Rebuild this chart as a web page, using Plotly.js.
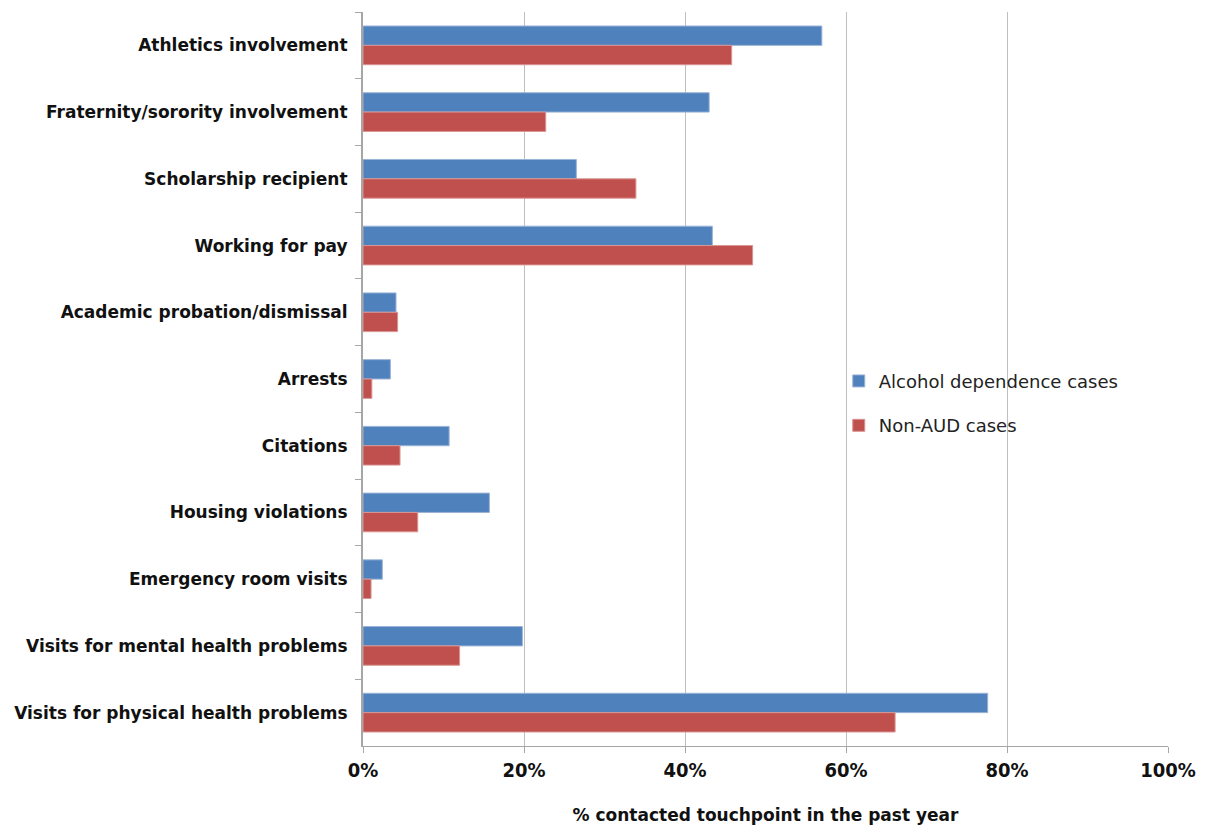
<!DOCTYPE html>
<html>
<head>
<meta charset="utf-8">
<script src="https://cdn.plot.ly/plotly-3.0.1.min.js"></script>
<style>html,body{margin:0;padding:0;background:#fff;}#chart{width:1207px;height:825px;}</style>
</head>
<body>
<div id="chart"></div>
<script>
const categories = [
  "Athletics involvement",
  "Fraternity/sorority involvement",
  "Scholarship recipient",
  "Working for pay",
  "Academic probation/dismissal",
  "Arrests",
  "Citations",
  "Housing violations",
  "Emergency room visits",
  "Visits for mental health problems",
  "Visits for physical health problems"
];
const alcoholDependence = [0.570, 0.430, 0.265, 0.434, 0.041, 0.034, 0.107, 0.157, 0.024, 0.198, 0.776];
const nonAUD = [0.458, 0.227, 0.339, 0.484, 0.043, 0.011, 0.046, 0.068, 0.010, 0.120, 0.661];
const seriesNames = ["Alcohol dependence cases", "Non-AUD cases"];
const xTickVals = [0, 0.2, 0.4, 0.6, 0.8, 1.0];
const xTickText = ["0%", "20%", "40%", "60%", "80%", "100%"];

const traces = [
  {type: "bar", orientation: "h", name: seriesNames[0], y: categories, x: alcoholDependence, legendgroup: "a",
   marker: {color: "#4F81BD", line: {color: "#9BB3D6", width: 1}}},
  {type: "bar", orientation: "h", name: seriesNames[1], y: categories, x: nonAUD, legendgroup: "b",
   marker: {color: "#C0504D", line: {color: "#D99593", width: 1}}}
];

const layout = {
  width: 1207, height: 825,
  margin: {l: 363, r: 39, t: 12, b: 79},
  paper_bgcolor: "#fff", plot_bgcolor: "#fff",
  barmode: "group", bargap: 0.42, bargroupgap: 0,
  showlegend: true,
  legend: {x: 0.591, y: 0.467, xanchor: "left", yanchor: "middle",
           font: {family: "DejaVu Sans, sans-serif", size: 18, color: "#222"},
           bgcolor: "rgba(0,0,0,0)", traceorder: "grouped", tracegroupgap: 18, itemwidth: 30},
  xaxis: {range: [0, 1], tickvals: xTickVals, ticktext: xTickText,
          showgrid: true, gridcolor: "#BFBFBF", gridwidth: 1,
          showline: true, linecolor: "#A6A6A6", linewidth: 1,
          ticks: "outside", ticklen: 6, tickcolor: "#A6A6A6",
          tickfont: {family: "DejaVu Sans Condensed, DejaVu Sans, sans-serif", size: 20, color: "#111", weight: "bold"},
          title: {text: "<b>% contacted touchpoint in the past year</b>", font: {family: "DejaVu Sans, sans-serif", size: 17, color: "#111"}, standoff: 28},
          zeroline: false, fixedrange: true},
  yaxis: {type: "category", autorange: "reversed",
          showline: true, linecolor: "#A6A6A6", linewidth: 2,
          ticks: "outside", ticklen: 6, tickcolor: "#A6A6A6", tickson: "boundaries",
          tickfont: {family: "DejaVu Sans, sans-serif", size: 17, color: "#111", weight: "bold"},
          ticklabelstandoff: 10,
          showgrid: false, zeroline: false, fixedrange: true}
};

Plotly.newPlot("chart", traces, layout, {displayModeBar: false, staticPlot: true});
</script>
</body>
</html>
